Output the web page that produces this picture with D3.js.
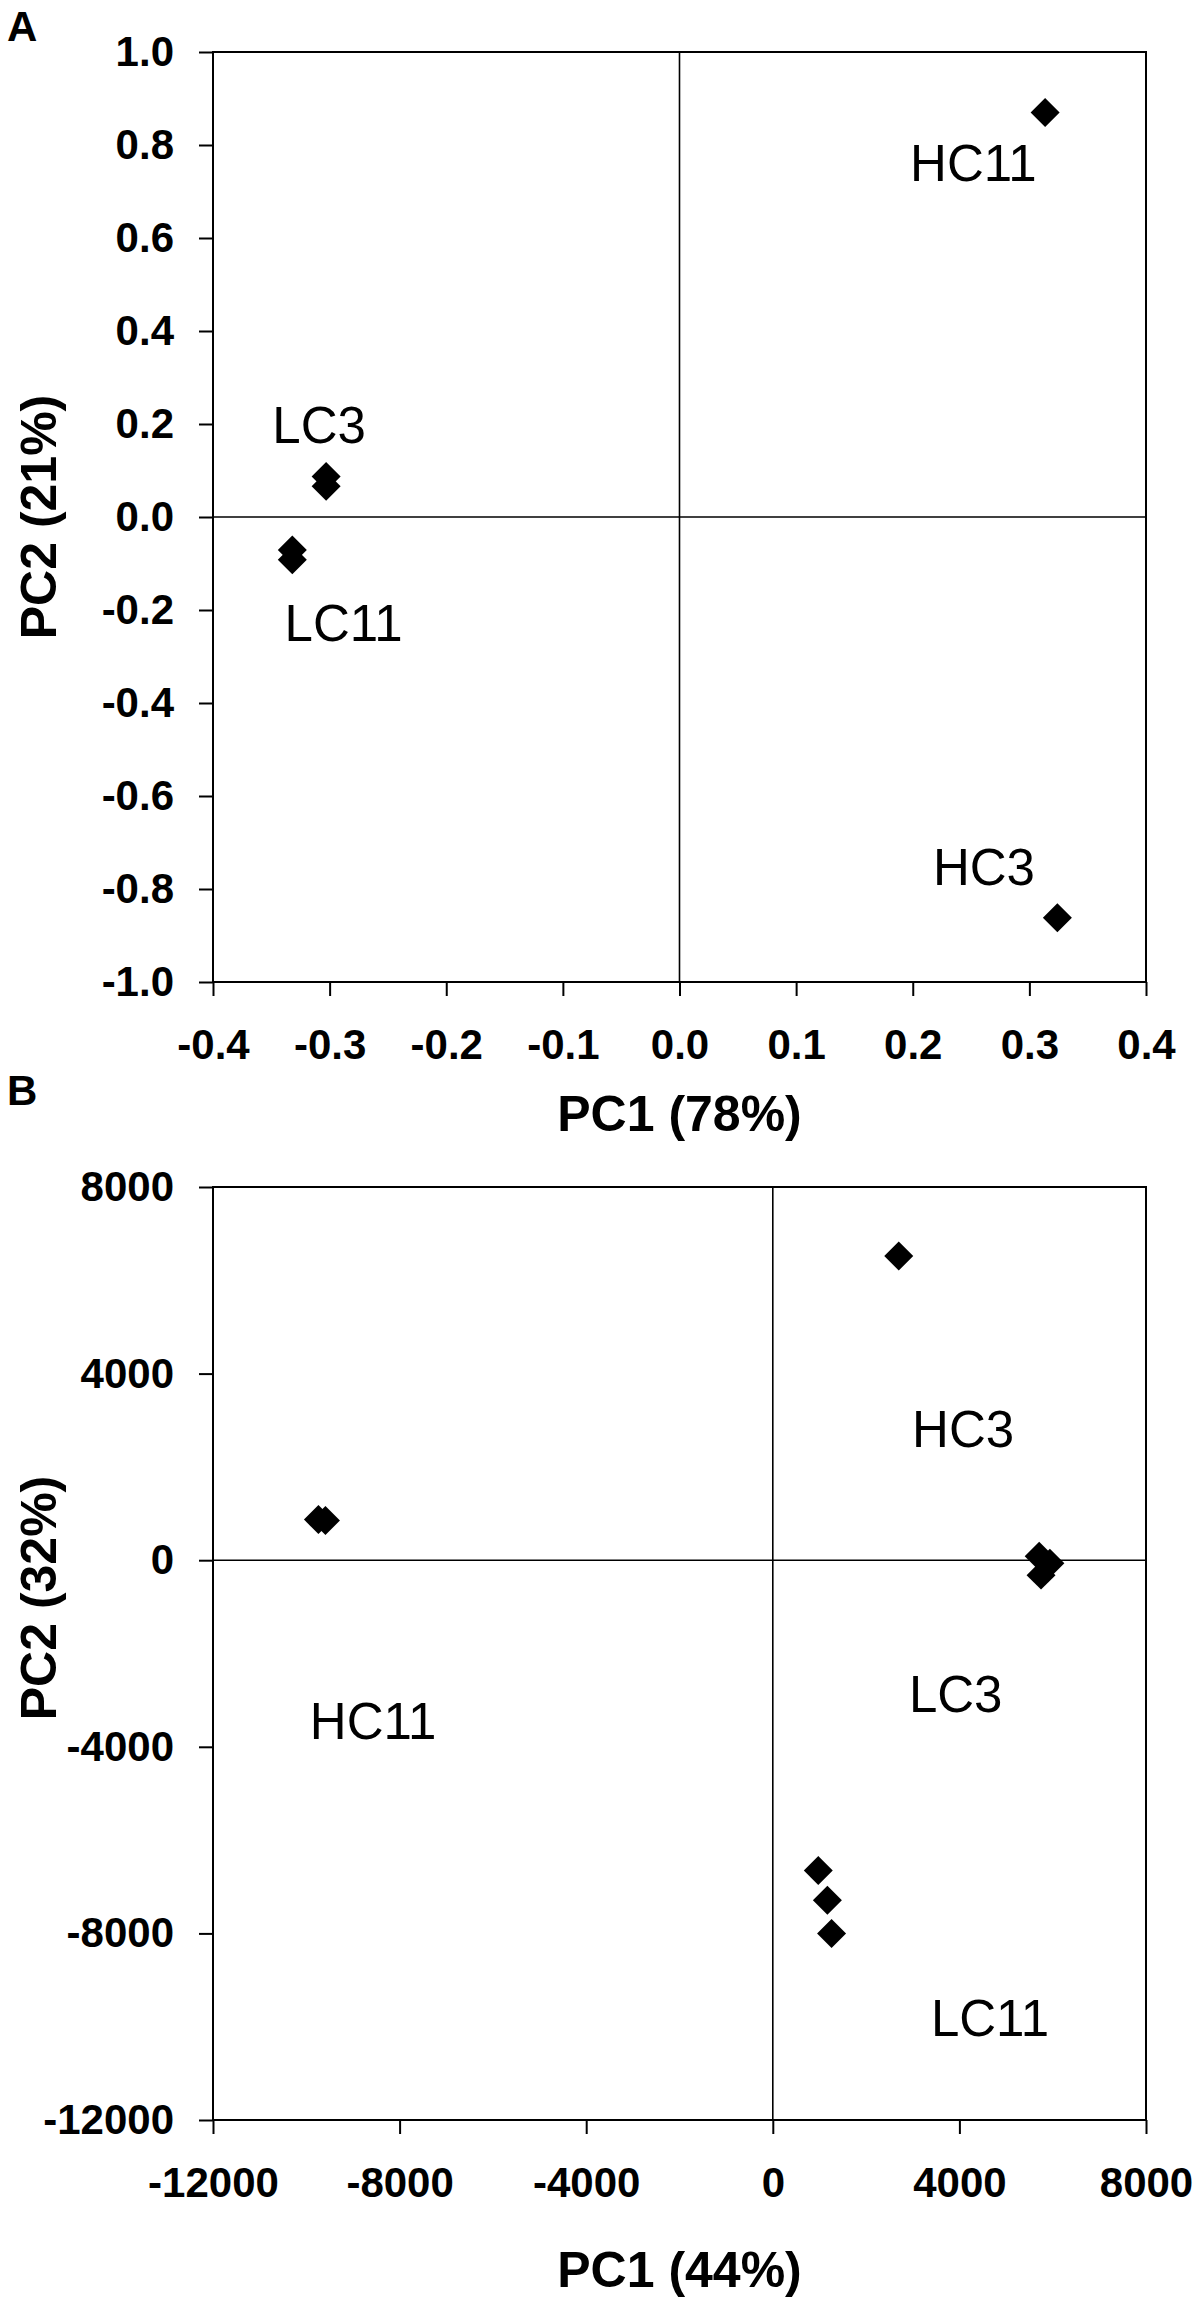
<!DOCTYPE html>
<html>
<head>
<meta charset="utf-8">
<script src="https://cdn.jsdelivr.net/npm/d3@7"></script>
<style>
  body { margin: 0; background: #fff; }
  text { font-family: "Liberation Sans", Arial, sans-serif; fill: #000; }
</style>
</head>
<body>
<script type="text/javascript">
    const Width = 1200;
    const Height = 2305;

    // Panel A: PCA scores (PC1 78%, PC2 21%)
    const xTicksA = [-0.4, -0.3, -0.2, -0.1, 0.0, 0.1, 0.2, 0.3, 0.4];
    const yTicksA = [-1.0, -0.8, -0.6, -0.4, -0.2, 0.0, 0.2, 0.4, 0.6, 0.8, 1.0];
    const pc1A = [-0.303, -0.303, -0.332, -0.332, 0.3135, 0.324];
    const pc2A = [0.087, 0.066, -0.071, -0.092, 0.870, -0.862];
    const labelsA = ["LC3", "LC11", "HC11", "HC3"];
    const labelXA = [-0.309, -0.288, 0.252, 0.261];
    const labelYA = [0.159, -0.267, 0.723, -0.791];

    // Panel B: PCA scores (PC1 44%, PC2 32%)
    const xTicksB = [-12000, -8000, -4000, 0, 4000, 8000];
    const yTicksB = [-12000, -8000, -4000, 0, 4000, 8000];
    const pc1B = [2700, 5710, 5940, 5750, 975, 1170, 1260, -9740, -9590];
    const pc2B = [6520, 86, -64, -320, -6650, -7290, -8000, 870, 850];
    const labelsB = ["HC3", "LC3", "LC11", "HC11"];
    const labelXB = [4080, 3920, 4656, -8568];
    const labelYB = [2422, -3258, -10204, -3837];

    const svg = d3.select("body")
     .append("svg")
     .attr("width", Width)
     .attr("height", Height);

    const left = 213, right = 1146;

    function drawPanel(p) {
        const x = d3.scaleLinear().domain(p.xDomain).range([left, right]);
        const y = d3.scaleLinear().domain(p.yDomain).range([p.bottom, p.top]);
        const g = svg.append("g");

        // y axis
        g.append("g")
         .attr("transform", "translate(" + left + ",0)")
         .call(d3.axisLeft(y).tickValues(p.yTicks).tickFormat(p.fmt)
               .tickSize(14).tickSizeOuter(0).tickPadding(25))
         .call(a => a.select(".domain").remove())
         .call(a => a.selectAll("line").attr("stroke", "#000").attr("stroke-width", 2))
         .call(a => a.selectAll("text").attr("font-size", 42).attr("font-weight", "bold")
               .attr("font-family", "Liberation Sans, Arial, sans-serif").attr("fill", "#000"));

        // x axis
        g.append("g")
         .attr("transform", "translate(0," + p.bottom + ")")
         .call(d3.axisBottom(x).tickValues(p.xTicks).tickFormat(p.fmt)
               .tickSize(14).tickSizeOuter(0).tickPadding(33))
         .call(a => a.select(".domain").remove())
         .call(a => a.selectAll("line").attr("stroke", "#000").attr("stroke-width", 2))
         .call(a => a.selectAll("text").attr("font-size", 42).attr("font-weight", "bold")
               .attr("font-family", "Liberation Sans, Arial, sans-serif").attr("fill", "#000"));

        // frame
        g.append("rect")
         .attr("x", left).attr("y", p.top)
         .attr("width", right - left).attr("height", p.bottom - p.top)
         .attr("fill", "none").attr("stroke", "#000").attr("stroke-width", 2);

        // zero lines
        g.append("line")
         .attr("x1", left).attr("x2", right)
         .attr("y1", y(0)).attr("y2", y(0))
         .attr("stroke", "#000").attr("stroke-width", 1.6);
        g.append("line")
         .attr("x1", x(0)).attr("x2", x(0))
         .attr("y1", p.top).attr("y2", p.bottom)
         .attr("stroke", "#000").attr("stroke-width", 1.6);

        // diamonds
        const diamond = d3.symbol().type(d3.symbolSquare).size(420);
        g.selectAll("path.pt")
         .data(p.xs)
         .enter()
         .append("path")
         .attr("class", "pt")
         .attr("d", diamond)
         .attr("transform", function (d, i) {
               return "translate(" + x(d) + "," + y(p.ys[i]) + ") rotate(45)";
         })
         .attr("fill", "#000");

        // sample labels
        g.selectAll("text.lbl")
         .data(p.labels)
         .enter()
         .append("text")
         .attr("class", "lbl")
         .attr("x", (d, i) => x(p.lx[i]))
         .attr("y", (d, i) => y(p.ly[i]))
         .attr("text-anchor", "middle")
         .attr("font-size", 51)
         .text(d => d);

        // axis titles
        g.append("text")
         .attr("x", (left + right) / 2)
         .attr("y", p.bottom + p.xTitleOffset)
         .attr("text-anchor", "middle")
         .attr("font-size", 50).attr("font-weight", "bold")
         .text(p.xTitle);
        g.append("text")
         .attr("transform", "translate(56," + p.yTitleCenter + ") rotate(-90)")
         .attr("text-anchor", "middle")
         .attr("font-size", 50).attr("font-weight", "bold")
         .text(p.yTitle);

        // panel letter
        g.append("text")
         .attr("x", 7).attr("y", p.letterY)
         .attr("font-size", 42).attr("font-weight", "bold")
         .text(p.letter);
    }

    drawPanel({
        xDomain: [-0.4, 0.4], yDomain: [-1, 1], top: 52, bottom: 982,
        xTicks: xTicksA, yTicks: yTicksA, fmt: d => d.toFixed(1),
        xs: pc1A, ys: pc2A, labels: labelsA, lx: labelXA, ly: labelYA,
        xTitle: "PC1 (78%)", yTitle: "PC2 (21%)", xTitleOffset: 149, yTitleCenter: 517,
        letter: "A", letterY: 41
    });

    drawPanel({
        xDomain: [-12000, 8000], yDomain: [-12000, 8000], top: 1187, bottom: 2120,
        xTicks: xTicksB, yTicks: yTicksB, fmt: d => String(d),
        xs: pc1B, ys: pc2B, labels: labelsB, lx: labelXB, ly: labelYB,
        xTitle: "PC1 (44%)", yTitle: "PC2 (32%)", xTitleOffset: 167, yTitleCenter: 1598,
        letter: "B", letterY: 1105
    });
</script>
</body>
</html>
